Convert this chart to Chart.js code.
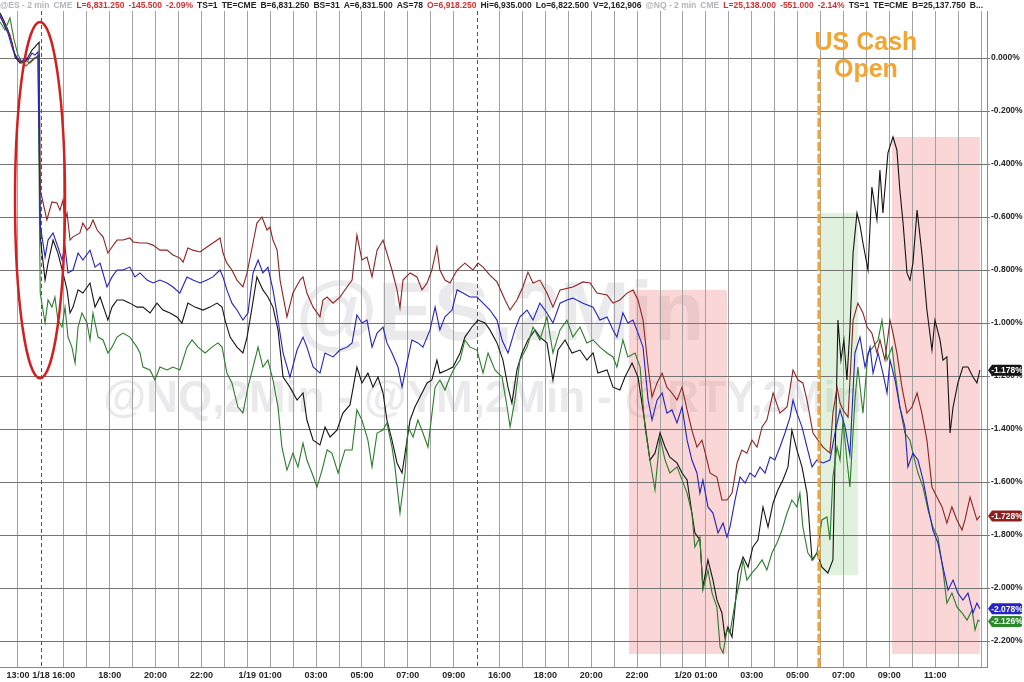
<!DOCTYPE html>
<html>
<head>
<meta charset="utf-8">
<script src="https://cdn.jsdelivr.net/npm/chart.js@4.4.1/dist/chart.umd.min.js"></script>
<style>
  html, body { margin: 0; padding: 0; background: #fff; }
  #wrap { width: 1024px; height: 682px; }
</style>
</head>
<body>
<div id="wrap"><canvas id="futChart" width="1024" height="682"></canvas></div>
<script>
// x = hour slot on the session axis (0 = the 13:00 gridline), y = % change
const xTickSlots = [0, 1, 2, 4, 6, 8, 10, 11, 13, 15, 17, 19, 21, 23, 25, 27, 29, 30, 32, 34, 36, 38, 40];
const xTickLabels = ['13:00', '1/18', '16:00', '18:00', '20:00', '22:00', '1/19', '01:00', '03:00', '05:00', '07:00', '09:00',
  '16:00', '18:00', '20:00', '22:00', '1/20', '01:00', '03:00', '05:00', '07:00', '09:00', '11:00'];
const sessionBreaks = [1, 20];
const yTicks = [0, -0.2, -0.4, -0.6, -0.8, -1.0, -1.2, -1.4, -1.6, -1.8, -2.0, -2.2];

const blackPts = [
  [-0.78,0.170],[-0.57,0.132],[-0.44,0.106],[-0.26,0.057],[-0.13,0.004],[0.09,-0.019],[0.31,-0.015],[0.44,0.004],[0.61,0.030],[0.74,0.042],[0.92,0.060],
  [0.97,-0.675],[1.18,-0.838],[1.31,-0.774],[1.53,-0.687],[1.74,-0.736],[1.96,-0.811],[2.14,-0.875],[2.27,-0.962],[2.40,-0.940],[2.62,-0.875],
  [2.83,-0.887],[3.14,-0.849],[3.36,-0.940],[3.58,-0.902],[3.92,-0.989],[4.10,-0.940],[4.32,-0.913],[4.58,-0.913],[4.88,-0.925],[5.19,-0.940],
  [5.45,-0.940],[5.76,-0.962],[6.06,-0.925],[6.32,-0.951],[6.63,-0.962],[6.93,-0.977],[7.15,-1.000],[7.41,-0.925],[7.72,-0.940],[8.07,-0.951],
  [8.37,-0.940],[8.68,-0.925],[8.90,-0.940],[9.03,-0.989],[9.25,-1.053],[9.55,-1.091],[9.81,-1.113],[9.99,-1.053],[10.21,-0.940],[10.42,-0.826],
  [10.68,-0.875],[10.90,-0.902],[11.12,-0.940],[11.34,-1.026],[11.56,-1.204],[11.86,-1.242],[12.17,-1.291],[12.43,-1.264],[12.60,-1.366],
  [12.87,-1.442],[13.17,-1.460],[13.39,-1.392],[13.61,-1.430],[13.91,-1.404],[14.17,-1.340],[14.48,-1.309],[14.78,-1.166],[15.00,-1.226],
  [15.26,-1.189],[15.48,-1.242],[15.70,-1.204],[15.92,-1.264],[16.09,-1.366],[16.31,-1.442],[16.53,-1.528],[16.75,-1.566],[16.88,-1.491],
  [17.10,-1.366],[17.31,-1.317],[17.53,-1.279],[17.84,-1.226],[18.05,-1.215],[18.27,-1.140],[18.40,-1.189],[18.71,-1.177],[18.97,-1.166],
  [19.28,-1.113],[19.49,-1.053],[19.80,-1.015],[20.06,-0.989],[20.37,-1.000],[20.58,-1.026],[20.89,-1.075],[21.15,-1.140],[21.37,-1.242],
  [21.54,-1.302],[21.76,-1.177],[21.98,-1.113],[22.24,-1.064],[22.55,-1.026],[22.76,-1.053],[23.07,-1.075],[23.33,-1.215],[23.55,-1.102],
  [23.86,-1.064],[24.16,-1.113],[24.51,-1.102],[24.81,-1.140],[25.08,-1.113],[25.29,-1.189],[25.69,-1.177],[25.95,-1.242],[26.25,-1.253],
  [26.47,-1.204],[26.78,-1.151],[27.04,-1.204],[27.34,-1.377],[27.56,-1.517],[27.78,-1.491],[28.00,-1.415],[28.22,-1.468],[28.43,-1.506],
  [28.74,-1.528],[28.96,-1.566],[29.18,-1.592],[29.39,-1.717],[29.52,-1.792],[29.74,-1.819],[29.87,-1.996],[30.09,-1.894],[30.31,-1.970],
  [30.48,-2.045],[30.70,-2.094],[30.83,-2.185],[30.96,-2.147],[31.14,-2.185],[31.27,-2.072],[31.40,-1.943],[31.62,-1.883],[31.84,-1.921],
  [32.05,-1.845],[32.27,-1.819],[32.49,-1.694],[32.71,-1.770],[32.93,-1.679],[33.14,-1.630],[33.36,-1.592],[33.58,-1.543],[33.75,-1.404],
  [33.97,-1.479],[34.19,-1.543],[34.41,-1.642],[34.63,-1.894],[34.84,-1.868],[35.06,-1.921],[35.32,-1.943],[35.54,-1.894],[35.67,-1.366],
  [35.76,-0.989],[35.89,-1.140],[36.02,-1.064],[36.15,-1.215],[36.28,-1.026],[36.42,-0.736],[36.59,-0.585],[36.72,-0.630],[36.85,-0.698],
  [37.07,-0.800],[37.24,-0.487],[37.46,-0.611],[37.59,-0.423],[37.72,-0.585],[37.94,-0.358],[38.16,-0.298],[38.33,-0.347],[38.46,-0.498],
  [38.60,-0.623],[38.77,-0.811],[38.90,-0.838],[39.03,-0.774],[39.21,-0.574],[39.42,-0.736],[39.64,-0.951],[39.86,-1.102],[39.99,-0.989],
  [40.21,-1.064],[40.34,-1.140],[40.51,-1.128],[40.65,-1.415],[40.78,-1.317],[40.99,-1.226],[41.21,-1.166],[41.43,-1.166],[41.65,-1.204],
  [41.82,-1.226],[41.95,-1.178]
];

const redPts = [
  [-0.78,0.155],[-0.57,0.125],[-0.35,0.087],[-0.13,0.011],[0.09,-0.015],[0.31,-0.008],[0.52,-0.019],[0.74,0.000],[0.92,0.011],
  [0.97,-0.498],[1.26,-0.611],[1.48,-0.543],[1.70,-0.547],[1.83,-0.574],[1.96,-0.536],[2.05,-0.611],[2.14,-0.585],[2.27,-0.687],[2.40,-0.675],
  [2.70,-0.660],[2.83,-0.623],[3.01,-0.649],[3.14,-0.638],[3.27,-0.611],[3.45,-0.649],[3.71,-0.675],[3.92,-0.736],[4.10,-0.713],[4.32,-0.687],
  [4.58,-0.687],[4.88,-0.679],[5.02,-0.694],[5.32,-0.698],[5.63,-0.698],[5.89,-0.706],[6.19,-0.725],[6.50,-0.725],[6.76,-0.743],[7.06,-0.755],
  [7.20,-0.770],[7.41,-0.717],[7.63,-0.725],[7.94,-0.732],[8.24,-0.713],[8.50,-0.698],[8.81,-0.679],[8.94,-0.736],[9.11,-0.774],[9.33,-0.800],
  [9.55,-0.838],[9.81,-0.864],[9.99,-0.811],[10.25,-0.698],[10.42,-0.623],[10.64,-0.600],[10.86,-0.649],[10.99,-0.638],[11.12,-0.687],
  [11.30,-0.725],[11.43,-0.838],[11.73,-0.977],[11.99,-0.887],[12.30,-0.838],[12.43,-0.826],[12.60,-0.887],[12.87,-0.940],[13.17,-0.977],
  [13.30,-0.913],[13.48,-0.902],[13.74,-0.925],[14.04,-0.902],[14.35,-0.864],[14.57,-0.838],[14.78,-0.668],[15.00,-0.762],[15.22,-0.751],
  [15.44,-0.826],[15.66,-0.725],[15.92,-0.687],[16.09,-0.736],[16.31,-0.800],[16.53,-0.875],[16.66,-0.943],[16.79,-0.838],[17.10,-0.811],
  [17.40,-0.826],[17.62,-0.875],[17.84,-0.849],[18.05,-0.800],[18.27,-0.713],[18.40,-0.800],[18.62,-0.838],[18.84,-0.849],[19.15,-0.800],
  [19.49,-0.774],[19.84,-0.800],[20.06,-0.774],[20.28,-0.789],[20.58,-0.819],[20.89,-0.845],[21.24,-0.913],[21.46,-0.951],[21.76,-0.913],
  [22.02,-0.864],[22.24,-0.808],[22.46,-0.849],[22.76,-0.838],[23.07,-0.887],[23.33,-0.940],[23.64,-0.875],[24.20,-0.864],[24.64,-0.845],
  [24.95,-0.849],[25.25,-0.887],[25.69,-0.894],[25.95,-0.925],[26.25,-0.913],[26.56,-0.887],[26.82,-0.875],[27.04,-0.913],[27.26,-0.989],
  [27.48,-1.166],[27.65,-1.279],[27.87,-1.226],[28.09,-1.189],[28.30,-1.242],[28.52,-1.264],[28.74,-1.291],[28.96,-1.242],[29.18,-1.328],
  [29.39,-1.404],[29.61,-1.468],[29.83,-1.442],[30.05,-1.517],[30.18,-1.566],[30.48,-1.581],[30.70,-1.668],[30.92,-1.668],[31.14,-1.642],
  [31.36,-1.528],[31.57,-1.479],[31.79,-1.491],[32.01,-1.442],[32.23,-1.468],[32.45,-1.392],[32.66,-1.366],[32.93,-1.264],[33.23,-1.340],
  [33.54,-1.317],[33.80,-1.177],[34.02,-1.215],[34.23,-1.226],[34.41,-1.291],[34.67,-1.415],[34.89,-1.442],[35.11,-1.468],[35.41,-1.491],
  [35.54,-1.340],[35.72,-1.242],[35.85,-1.302],[35.98,-1.328],[36.20,-1.355],[36.42,-0.989],[36.63,-0.925],[36.85,-0.962],[37.03,-1.015],
  [37.24,-1.038],[37.46,-1.113],[37.59,-1.064],[37.81,-1.140],[38.03,-0.989],[38.16,-1.038],[38.33,-1.113],[38.55,-1.242],[38.77,-1.340],
  [38.99,-1.317],[39.21,-1.264],[39.42,-1.340],[39.64,-1.442],[39.86,-1.619],[40.08,-1.657],[40.30,-1.694],[40.51,-1.755],[40.73,-1.694],
  [40.95,-1.743],[41.17,-1.781],[41.30,-1.743],[41.52,-1.657],[41.65,-1.694],[41.82,-1.743],[41.95,-1.728]
];

const bluePts = [
  [-0.78,0.162],[-0.57,0.117],[-0.44,0.094],[-0.22,0.030],[-0.04,0.000],[0.17,-0.015],[0.31,0.004],[0.44,-0.008],[0.61,0.019],[0.74,0.011],[0.87,0.023],
  [0.97,-0.630],[1.18,-0.751],[1.31,-0.687],[1.53,-0.660],[1.74,-0.713],[1.92,-0.762],[2.05,-0.713],[2.18,-0.811],[2.40,-0.800],[2.62,-0.736],
  [2.83,-0.762],[3.14,-0.725],[3.36,-0.789],[3.58,-0.774],[3.88,-0.864],[4.10,-0.826],[4.32,-0.800],[4.58,-0.800],[4.88,-0.789],[5.10,-0.826],
  [5.32,-0.811],[5.63,-0.838],[5.89,-0.849],[6.19,-0.838],[6.50,-0.849],[6.76,-0.864],[7.06,-0.887],[7.37,-0.826],[7.63,-0.838],[7.94,-0.849],
  [8.24,-0.838],[8.50,-0.826],[8.81,-0.800],[8.94,-0.826],[9.11,-0.875],[9.33,-0.925],[9.55,-0.951],[9.81,-0.989],[10.03,-0.962],[10.25,-0.811],
  [10.47,-0.762],[10.68,-0.811],[10.90,-0.789],[11.12,-0.875],[11.34,-0.989],[11.56,-1.113],[11.86,-1.204],[12.17,-1.102],[12.43,-1.053],
  [12.60,-1.091],[12.87,-1.166],[13.17,-1.189],[13.39,-1.113],[13.74,-1.128],[14.04,-1.102],[14.35,-1.091],[14.57,-1.075],[14.78,-0.970],
  [15.00,-1.000],[15.22,-0.989],[15.44,-1.091],[15.66,-1.038],[15.92,-1.015],[16.09,-1.075],[16.31,-1.113],[16.57,-1.166],[16.75,-1.242],
  [16.96,-1.151],[17.18,-1.064],[17.44,-1.075],[17.66,-1.091],[17.97,-1.026],[18.19,-0.940],[18.40,-1.026],[18.62,-0.977],[18.93,-0.951],
  [19.15,-0.875],[19.41,-0.887],[19.71,-0.902],[20.02,-0.902],[20.28,-0.925],[20.58,-0.951],[20.89,-0.989],[21.11,-1.064],[21.37,-1.113],
  [21.67,-1.026],[21.89,-0.977],[22.20,-0.951],[22.46,-0.989],[22.76,-0.925],[23.07,-0.962],[23.33,-1.000],[23.64,-0.925],[23.94,-0.913],
  [24.20,-0.906],[24.64,-0.925],[25.08,-0.940],[25.38,-0.989],[25.69,-0.977],[25.95,-1.026],[26.12,-1.053],[26.38,-0.962],[26.60,-1.000],
  [26.82,-0.989],[27.04,-1.038],[27.26,-1.091],[27.48,-1.291],[27.65,-1.366],[27.87,-1.291],[28.09,-1.264],[28.30,-1.340],[28.52,-1.328],
  [28.74,-1.377],[28.96,-1.317],[29.18,-1.442],[29.39,-1.517],[29.61,-1.566],[29.74,-1.642],[29.87,-1.592],[30.09,-1.694],[30.31,-1.717],
  [30.53,-1.792],[30.75,-1.755],[30.92,-1.808],[31.05,-1.770],[31.27,-1.668],[31.49,-1.581],[31.71,-1.604],[31.92,-1.566],[32.14,-1.581],
  [32.36,-1.543],[32.58,-1.566],[32.80,-1.506],[33.01,-1.517],[33.23,-1.468],[33.45,-1.415],[33.67,-1.355],[33.80,-1.291],[33.97,-1.340],
  [34.19,-1.392],[34.41,-1.468],[34.63,-1.543],[34.84,-1.517],[35.11,-1.528],[35.41,-1.517],[35.63,-1.415],[35.85,-1.328],[36.07,-1.392],
  [36.28,-1.498],[36.50,-1.113],[36.72,-1.053],[36.94,-1.166],[37.16,-1.091],[37.29,-1.189],[37.51,-1.113],[37.72,-1.189],[37.90,-1.264],
  [38.03,-1.140],[38.25,-1.215],[38.46,-1.317],[38.68,-1.392],[38.81,-1.543],[39.03,-1.491],[39.25,-1.517],[39.47,-1.592],[39.69,-1.694],
  [39.90,-1.781],[40.12,-1.830],[40.34,-1.921],[40.56,-2.008],[40.78,-1.970],[40.99,-2.019],[41.21,-2.045],[41.43,-2.019],[41.65,-2.094],
  [41.82,-2.057],[41.95,-2.078]
];

const greenPts = [
  [-0.78,0.136],[-0.57,0.106],[-0.35,0.151],[-0.17,0.068],[0.00,0.011],[0.17,-0.015],[0.35,-0.030],[0.52,-0.015],[0.70,0.000],[0.87,0.004],
  [0.97,-0.887],[1.18,-1.000],[1.31,-0.913],[1.48,-0.940],[1.61,-0.902],[1.74,-0.989],[1.92,-1.015],[2.05,-0.940],[2.18,-1.053],[2.35,-1.091],
  [2.49,-1.151],[2.62,-1.015],[2.79,-0.962],[3.01,-1.000],[3.14,-1.064],[3.27,-0.962],[3.49,-1.053],[3.71,-1.064],[3.92,-1.113],[4.10,-1.091],
  [4.32,-1.053],[4.58,-1.038],[4.88,-1.053],[5.19,-1.091],[5.32,-1.113],[5.45,-1.166],[5.76,-1.177],[5.97,-1.215],[6.19,-1.166],[6.50,-1.177],
  [6.76,-1.166],[7.06,-1.177],[7.37,-1.091],[7.59,-1.064],[7.85,-1.091],[8.16,-1.113],[8.46,-1.091],[8.72,-1.075],[8.90,-1.091],[9.11,-1.189],
  [9.33,-1.226],[9.59,-1.317],[9.81,-1.340],[10.03,-1.242],[10.25,-1.166],[10.47,-1.091],[10.68,-1.166],[10.90,-1.140],[11.12,-1.215],
  [11.34,-1.317],[11.51,-1.468],[11.73,-1.555],[11.99,-1.491],[12.21,-1.543],[12.43,-1.453],[12.60,-1.517],[12.82,-1.566],[13.04,-1.619],
  [13.26,-1.555],[13.48,-1.479],[13.69,-1.491],[13.96,-1.566],[14.26,-1.479],[14.57,-1.479],[14.78,-1.328],[15.00,-1.366],[15.26,-1.442],
  [15.44,-1.543],[15.66,-1.415],[15.92,-1.404],[16.09,-1.377],[16.31,-1.468],[16.44,-1.543],[16.66,-1.717],[16.88,-1.566],[17.01,-1.392],
  [17.23,-1.430],[17.44,-1.366],[17.66,-1.415],[17.88,-1.468],[18.19,-1.242],[18.40,-1.215],[18.62,-1.253],[18.84,-1.204],[19.06,-1.166],
  [19.28,-1.140],[19.49,-1.064],[19.71,-1.091],[20.02,-1.102],[20.28,-1.189],[20.50,-1.113],[20.80,-1.177],[21.11,-1.204],[21.33,-1.317],
  [21.46,-1.392],[21.67,-1.291],[21.89,-1.140],[22.20,-1.091],[22.46,-1.015],[22.76,-1.064],[23.07,-0.977],[23.33,-1.113],[23.64,-1.026],
  [23.94,-0.989],[24.20,-1.053],[24.51,-1.015],[24.81,-1.075],[25.08,-1.064],[25.38,-1.091],[25.69,-1.113],[25.95,-1.128],[26.12,-1.166],
  [26.38,-1.064],[26.60,-1.128],[26.91,-1.113],[27.13,-1.166],[27.34,-1.392],[27.56,-1.517],[27.78,-1.630],[28.00,-1.430],[28.22,-1.517],
  [28.43,-1.566],[28.74,-1.543],[28.96,-1.592],[29.18,-1.642],[29.39,-1.717],[29.52,-1.845],[29.74,-1.808],[29.87,-2.008],[30.09,-1.932],
  [30.27,-2.019],[30.48,-2.072],[30.62,-2.223],[30.75,-2.245],[30.92,-2.158],[31.05,-2.170],[31.27,-2.057],[31.49,-1.970],[31.62,-1.894],
  [31.79,-1.970],[32.01,-1.943],[32.23,-1.921],[32.45,-1.894],[32.66,-1.932],[32.88,-1.868],[33.10,-1.830],[33.32,-1.781],[33.54,-1.717],
  [33.75,-1.668],[33.97,-1.694],[34.10,-1.642],[34.23,-1.770],[34.45,-1.868],[34.67,-1.894],[34.84,-1.868],[35.06,-1.743],[35.28,-1.732],
  [35.41,-1.819],[35.54,-1.581],[35.72,-1.468],[35.85,-1.517],[35.98,-1.366],[36.15,-1.517],[36.28,-1.619],[36.50,-1.291],[36.63,-1.166],
  [36.85,-1.340],[37.07,-1.113],[37.29,-1.091],[37.51,-1.064],[37.68,-0.989],[37.90,-1.140],[38.12,-1.091],[38.25,-1.189],[38.46,-1.317],
  [38.68,-1.415],[38.90,-1.442],[39.03,-1.491],[39.25,-1.566],[39.47,-1.619],[39.69,-1.706],[39.90,-1.770],[40.12,-1.808],[40.34,-1.932],
  [40.51,-2.057],[40.73,-2.019],[40.95,-2.072],[41.17,-2.094],[41.39,-2.121],[41.61,-2.083],[41.74,-2.158],[41.87,-2.121],[41.95,-2.126]
];

// highlighted windows: [from slot, to slot, top %, bottom %]
const sellZones = [[26.65, 30.92, -0.875, -2.249], [38.12, 41.95, -0.298, -2.249]];
const buyZones = [[34.98, 36.63, -0.585, -1.951]];
const cashOpenSlot = 34.93;

// quote strip along the top edge
const headerBits = [
  ['@ES - 2 min', 'g'], ['CME', 'g'], ['L=6,831.250', 'r'], ['-145.500', 'r'], ['-2.09%', 'r'], ['TS=1', 'k'], ['TE=CME', 'k'],
  ['B=6,831.250', 'k'], ['BS=31', 'k'], ['A=6,831.500', 'k'], ['AS=78', 'k'], ['O=6,918.250', 'r'], ['Hi=6,935.000', 'k'],
  ['Lo=6,822.500', 'k'], ['V=2,162,906', 'k'], ['@NQ - 2 min', 'g'], ['CME', 'g'], ['L=25,138.000', 'r'], ['-551.000', 'r'],
  ['-2.14%', 'r'], ['TS=1', 'k'], ['TE=CME', 'k'], ['B=25,137.750', 'k'], ['B...', 'k']
];
const headerColors = { g: '#b4b4bc', r: '#d23030', k: '#222' };

const toXY = pts => pts.map(p => ({ x: p[0], y: p[1] }));

const overlay = {
  id: 'overlay',
  beforeDraw(chart) {
    const { ctx, scales: { x, y } } = chart;
    ctx.save();
    ctx.fillStyle = 'rgba(170,170,178,0.25)';
    ctx.textAlign = 'center';
    ctx.font = 'bold 84px "Liberation Sans", Arial';
    ctx.fillText('@ES,2Min', 500, 340);
    ctx.font = 'bold 44px "Liberation Sans", Arial';
    ctx.fillText('@NQ,2Min - @YM,2Min - @RTY,2Min', 483, 412);

    const box = (z, color) => {
      const x0 = x.getPixelForValue(z[0]), x1 = x.getPixelForValue(z[1]);
      const y0 = y.getPixelForValue(z[2]), y1 = y.getPixelForValue(z[3]);
      ctx.fillStyle = color;
      ctx.fillRect(x0, y0, x1 - x0, y1 - y0);
    };
    sellZones.forEach(z => box(z, 'rgba(240,120,120,0.3)'));
    buyZones.forEach(z => box(z, 'rgba(130,200,120,0.25)'));
    ctx.restore();
  },
  beforeDatasetsDraw(chart) {
    const { ctx, chartArea: a, scales: { x } } = chart;
    ctx.save();
    ctx.strokeStyle = '#555';
    ctx.lineWidth = 1;
    ctx.setLineDash([4, 3]);
    sessionBreaks.forEach(s => {
      const px = Math.round(x.getPixelForValue(s)) + 0.5;
      ctx.beginPath();
      ctx.moveTo(px, a.top);
      ctx.lineTo(px, a.bottom);
      ctx.stroke();
    });
    ctx.restore();
  },
  afterDatasetsDraw(chart) {
    const { ctx, chartArea: a, scales: { x, y } } = chart;
    ctx.save();
    // US cash open marker
    const ox = x.getPixelForValue(cashOpenSlot);
    ctx.strokeStyle = '#f2a533';
    ctx.lineWidth = 3;
    ctx.setLineDash([9, 3]);
    ctx.beginPath();
    ctx.moveTo(ox, y.getPixelForValue(0));
    ctx.lineTo(ox, a.bottom);
    ctx.stroke();
    ctx.setLineDash([]);
    ctx.fillStyle = '#f2a533';
    ctx.textAlign = 'center';
    ctx.font = 'bold 25px "Liberation Sans", Arial';
    ctx.fillText('US Cash', x.getPixelForValue(36.98), y.getPixelForValue(0.030));
    ctx.fillText('Open', x.getPixelForValue(36.98), y.getPixelForValue(-0.072));

    // ring round the Sunday open gap
    const cx = x.getPixelForValue(0.96), cy = y.getPixelForValue(-0.536);
    const rx = x.getPixelForValue(0.96 + 1.09) - cx;
    const ry = y.getPixelForValue(-0.536 - 0.672) - cy;
    ctx.strokeStyle = '#d41f1f';
    ctx.lineWidth = 2.5;
    ctx.beginPath();
    ctx.ellipse(cx, cy, rx, ry, 0, 0, Math.PI * 2);
    ctx.stroke();
    ctx.restore();
  },
  afterDraw(chart) {
    const { ctx, chartArea: a, scales: { y } } = chart;
    ctx.save();
    ctx.font = 'bold 8.5px "Liberation Sans", Arial';
    ctx.textBaseline = 'middle';
    ctx.textAlign = 'left';
    const widths = headerBits.map(b => ctx.measureText(b[0]).width);
    const total = widths.reduce((s, w) => s + w, 0);
    const gap = (983 - total) / (headerBits.length - 1);
    let hx = 0;
    headerBits.forEach((b, i) => {
      ctx.fillStyle = headerColors[b[1]];
      ctx.fillText(b[0], hx, 5.5);
      hx += widths[i] + gap;
    });

    // last value tags on the right axis
    chart.data.datasets.forEach(ds => {
      const last = ds.data[ds.data.length - 1].y;
      const py = y.getPixelForValue(last);
      const l = a.right + 1, r = 1022, h = 5.5;
      ctx.fillStyle = ds.tagColor;
      ctx.beginPath();
      ctx.moveTo(l, py);
      ctx.lineTo(l + 4, py - h);
      ctx.lineTo(r - 2, py - h);
      ctx.quadraticCurveTo(r, py - h, r, py - h + 2);
      ctx.lineTo(r, py + h - 2);
      ctx.quadraticCurveTo(r, py + h, r - 2, py + h);
      ctx.lineTo(l + 4, py + h);
      ctx.closePath();
      ctx.fill();
      ctx.fillStyle = '#fff';
      ctx.textAlign = 'center';
      ctx.fillText(last.toFixed(3) + '%', (l + 4 + r) / 2, py + 0.5);
    });
    ctx.restore();
  }
};

const ctx = document.getElementById('futChart').getContext('2d');

const futChart = new Chart(ctx, {
  type: 'line',
  data: {
    datasets: [
      { label: 'NQ', data: toXY(bluePts), borderColor: '#2121c4', tagColor: '#2424c8' },
      { label: 'RTY', data: toXY(greenPts), borderColor: '#2b7c2b', tagColor: '#2a8a2a' },
      { label: 'YM', data: toXY(redPts), borderColor: '#8f2222', tagColor: '#8e1f1f' },
      { label: 'ES', data: toXY(blackPts), borderColor: '#141414', tagColor: '#151515' }
    ].map(ds => Object.assign(ds, { borderWidth: 1.1, pointRadius: 0, tension: 0, fill: false }))
  },
  options: {
    responsive: false,
    animation: false,
    layout: { padding: { top: 11, left: 0, right: 0, bottom: 0 } },
    plugins: { legend: { display: false }, tooltip: { enabled: false } },
    scales: {
      x: {
        type: 'linear',
        min: -0.785,
        max: 42.26,
        afterBuildTicks: s => { s.ticks = Array.from({ length: 43 }, (_, i) => ({ value: i })); },
        afterFit: s => { s.height = 15; },
        grid: {
          color: c => (c.tick && sessionBreaks.includes(c.tick.value)) ? 'rgba(0,0,0,0)' : '#a2a2a2',
          lineWidth: 1,
          drawTicks: false
        },
        border: { display: true, color: '#8a8a8a' },
        ticks: {
          autoSkip: false,
          maxRotation: 0,
          padding: 3,
          color: '#262626',
          font: { family: '"Liberation Sans", Arial', size: 9, weight: 'bold' },
          callback: v => {
            const i = xTickSlots.indexOf(v);
            return i >= 0 ? xTickLabels[i] : '';
          }
        }
      },
      y: {
        type: 'linear',
        position: 'right',
        min: -2.298,
        max: 0.1774,
        afterBuildTicks: s => { s.ticks = yTicks.map(v => ({ value: v })); },
        afterFit: s => { s.width = 37; },
        grid: { color: '#747474', lineWidth: 1, tickLength: 3 },
        border: { display: true, color: '#8a8a8a' },
        ticks: {
          padding: 1,
          color: '#262626',
          font: { family: '"Liberation Sans", Arial', size: 8.5, weight: 'bold' },
          callback: v => v.toFixed(3) + '%'
        }
      }
    }
  },
  plugins: [overlay]
});
</script>
</body>
</html>
